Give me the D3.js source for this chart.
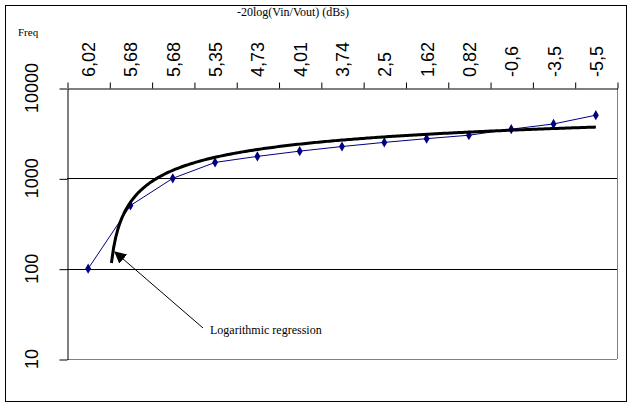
<!DOCTYPE html>
<html><head><meta charset="utf-8">
<script src="https://cdn.jsdelivr.net/npm/d3@7"></script>
<style>body{margin:0;background:#fff;}svg{display:block;}</style>
</head><body>
<script>
const categories = ["6,02","5,68","5,68","5,35","4,73","4,01","3,74","2,5","1,62","0,82","-0,6","-3,5","-5,5"];
const freqValues = [100,500,1000,1500,1750,2000,2250,2500,2750,3000,3500,4000,5000];
const yTicks = [10,100,1000,10000];
const trendStart = 1.55;

const W = 632, H = 407;
const svg = d3.select("body").append("svg").attr("width", W).attr("height", H);
svg.append("rect").attr("width", W).attr("height", H).attr("fill", "#fff");
svg.append("rect").attr("x", 5.5).attr("y", 5.5).attr("width", 621).attr("height", 396)
  .attr("fill", "none").attr("stroke", "#000");

const L = 67, R = 617, T = 88, B = 359;
const x = d3.scaleLinear().domain([0.5, categories.length + 0.5]).range([L, R]);
const y = d3.scaleLog().domain([10, 10000]).range([B, T]);

// plot area borders
svg.append("line").attr("x1", R + 0.5).attr("x2", R + 0.5).attr("y1", T).attr("y2", B).attr("stroke", "#808080");
svg.append("line").attr("x1", L).attr("x2", R).attr("y1", B + 0.5).attr("y2", B + 0.5).attr("stroke", "#808080");

// gridlines
svg.append("g").selectAll("line").data([100, 1000]).join("line")
  .attr("x1", L).attr("x2", R).attr("y1", d => Math.round(y(d)) + 0.5).attr("y2", d => Math.round(y(d)) + 0.5)
  .attr("stroke", "#000");

// top axis
const ticksX = d3.range(0, categories.length + 1).map(i => i + 0.5);
const gx = svg.append("g").attr("transform", `translate(0.5,${T + 0.5})`)
  .call(d3.axisTop(x).tickValues(ticksX).tickFormat("").tickSize(6).tickSizeOuter(0));
gx.select(".domain").attr("stroke", "#000");
gx.selectAll(".tick line").attr("stroke", "#000");

svg.append("g").selectAll("text").data(categories).join("text")
  .attr("transform", (d, i) => `translate(${x(i + 1) + 7},77) rotate(-90)`)
  .attr("text-anchor", "start")
  .attr("font-family", "Arial, 'Liberation Sans', sans-serif").attr("font-size", 18)
  .text(d => d);

// left axis
const gy = svg.append("g").attr("transform", `translate(${L + 0.5},0.5)`)
  .call(d3.axisLeft(y).tickValues(yTicks).tickFormat("").tickSize(8).tickSizeOuter(0));
gy.select(".domain").attr("stroke", "#000");
gy.selectAll(".tick line").attr("stroke", "#000");
svg.append("g").selectAll("text").data(yTicks).join("text")
  .attr("transform", d => `translate(38,${y(d)}) rotate(-90)`)
  .attr("text-anchor", "middle")
  .attr("font-family", "Arial, 'Liberation Sans', sans-serif").attr("font-size", 18)
  .text(d => d);

// titles
svg.append("text").attr("x", 18).attr("y", 36).attr("font-family", "'Liberation Serif', 'Times New Roman', serif")
  .attr("font-size", 11).text("Freq");
svg.append("text").attr("x", 293).attr("y", 16).attr("text-anchor", "middle")
  .attr("font-family", "'Liberation Serif', 'Times New Roman', serif").attr("font-size", 12)
  .text("-20log(Vin/Vout) (dBs)");

// series
const pts = freqValues.map((v, i) => [i + 1, v]);
svg.append("path").datum(pts)
  .attr("d", d3.line().x(d => x(d[0])).y(d => y(d[1])))
  .attr("fill", "none").attr("stroke", "#000080").attr("stroke-width", 1);
svg.append("g").selectAll("path").data(pts).join("path")
  .attr("transform", d => `translate(${x(d[0])},${y(d[1])})`)
  .attr("d", d3.symbol(d3.symbolDiamond, 30))
  .attr("fill", "#000080");

// logarithmic regression y = a ln(x) + b
const lx = pts.map(p => Math.log(p[0]));
const mL = d3.mean(lx), mY = d3.mean(freqValues);
const a = d3.sum(lx, (l, i) => (l - mL) * (freqValues[i] - mY)) / d3.sum(lx, l => (l - mL) ** 2);
const b = mY - a * mL;
const tx = d3.range(trendStart, categories.length + 0.001, 0.05).concat([categories.length]);
const trendPts = tx.map(t => [t, a * Math.log(t) + b]).filter(d => d[1] > 0);
svg.append("path").datum(trendPts)
  .attr("d", d3.line().x(d => x(d[0])).y(d => y(d[1])))
  .attr("fill", "none").attr("stroke", "#000").attr("stroke-width", 3).attr("stroke-linejoin", "round");

// annotation
svg.append("defs").append("marker").attr("id", "ah").attr("viewBox", "0 0 10 10")
  .attr("refX", 9).attr("refY", 5).attr("markerWidth", 12).attr("markerHeight", 12)
  .attr("markerUnits", "userSpaceOnUse").attr("orient", "auto")
  .append("path").attr("d", "M0,0 L10,5 L0,10 Z").attr("fill", "#000");
svg.append("line").attr("x1", 203).attr("y1", 328).attr("x2", 115).attr("y2", 252)
  .attr("stroke", "#000").attr("stroke-width", 1).attr("marker-end", "url(#ah)");
svg.append("text").attr("x", 210).attr("y", 334)
  .attr("font-family", "'Liberation Serif', 'Times New Roman', serif").attr("font-size", 12)
  .text("Logarithmic regression");
</script>
</body></html>
